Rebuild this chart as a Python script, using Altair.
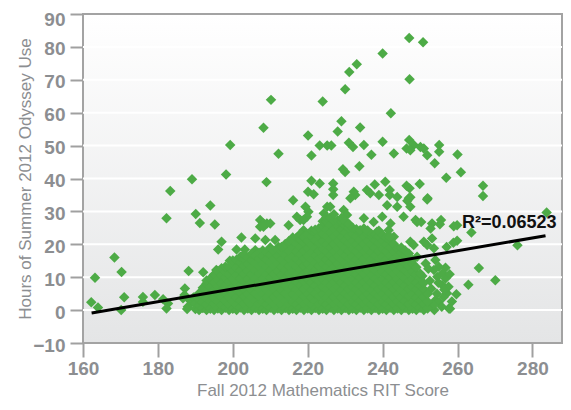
import altair as alt
import pandas as pd

# ---- scattered points (RIT score, hours) ----
out_x = [247.1, 250.8, 240.0, 233.1, 231.1, 247.2, 230.0, 210.2, 224.0, 242.2,
         229.0, 208.2, 234.0, 228.0, 220.1, 247.1, 240.0, 231.0, 199.3, 223.2,
         225.2, 226.3, 235.0, 248.3, 255.1, 232.1, 250.1, 246.4, 251.0, 247.4,
         255.1, 212.2, 243.0, 260.0, 237.0, 251.9, 221.0, 253.9, 233.8, 229.4,
         230.0, 260.9, 198.2, 257.0, 189.1, 221.0, 240.7, 209.0, 223.2, 226.8,
         249.9, 237.9, 266.8, 246.4, 247.2, 226.8, 235.8, 241.9, 183.3, 220.1,
         232.3, 236.7, 221.6, 226.8, 232.7, 239.0, 241.9, 266.8, 243.9, 231.4,
         247.0, 252.0, 216.1, 251.9, 247.4, 246.6, 194.0, 225.2, 226.0, 219.4,
         243.9, 241.2, 247.4, 229.6, 283.8, 190.1, 230.5, 224.3, 220.2, 219.8,
         239.9, 245.6, 217.1, 182.3, 235.0, 207.3, 218.0, 248.8, 255.6, 218.9,
         237.6, 249.2, 250.3, 191.2, 208.2, 209.1, 210.0, 242.1, 253.2, 255.3,
         195.2, 214.9, 259.9, 259.0, 207.3, 208.2, 252.8, 241.6, 218.9, 238.5,
         263.7, 218.5, 202.3, 243.0, 206.0, 253.2, 259.9, 208.7, 211.3, 218.9,
         197.0, 247.4, 251.0, 258.9, 276.0, 257.1, 212.2, 215.3, 248.3, 251.9,
         253.7, 196.1, 201.0, 203.2, 206.0, 216.7, 168.4, 249.2, 205.5, 254.1,
         199.2, 251.5, 256.8, 265.7, 255.0, 253.7, 195.6, 188.2, 192.1, 170.3,
         270.1, 163.2, 256.8, 254.6, 262.9, 255.9, 187.2, 257.2, 259.7, 179.2,
         176.0, 171.0, 256.3, 186.7, 181.4, 188.5, 254.1, 176.0, 255.0, 162.2,
         182.7, 164.0, 182.3, 257.7, 258.0, 170.2, 253.8, 191.3, 191.3, 189.1,
         187.1, 188.0, 189.5, 187.8, 253.0, 254.5, 252.6, 255.8, 253.5, 256.0,
         257.6, 258.5, 249.8, 251.2, 250.6, 252.2, 254.9, 256.5, 257.9, 250.0]
out_y = [82.7, 81.4, 78.0, 74.7, 72.4, 70.2, 67.1, 63.9, 63.4, 59.8,
         57.4, 55.4, 55.5, 54.3, 53.1, 51.7, 51.2, 50.9, 50.2, 50.0,
         50.0, 50.0, 50.2, 50.2, 50.2, 49.6, 49.6, 49.1, 49.1, 48.6,
         48.1, 47.5, 47.6, 47.3, 47.2, 47.1, 47.0, 44.6, 43.7, 42.8,
         42.0, 41.9, 41.2, 40.2, 39.8, 39.3, 39.0, 38.9, 38.5, 38.5,
         38.3, 38.2, 37.8, 37.8, 37.0, 36.7, 36.5, 36.5, 36.2, 36.0,
         36.0, 35.5, 35.2, 35.0, 35.0, 35.0, 35.0, 34.7, 34.4, 34.0,
         34.0, 34.0, 33.4, 33.6, 34.3, 33.2, 31.8, 31.4, 31.4, 31.4,
         31.4, 31.9, 31.4, 30.4, 29.7, 29.2, 28.9, 29.4, 29.9, 28.4,
         28.4, 28.4, 28.4, 27.9, 27.9, 27.4, 27.4, 27.4, 27.4, 27.4,
         26.8, 26.8, 26.8, 26.5, 26.3, 26.3, 26.3, 26.3, 26.3, 26.1,
         26.0, 25.8, 25.8, 25.5, 25.3, 25.3, 24.8, 24.3, 24.3, 23.8,
         23.6, 23.3, 22.1, 22.3, 21.8, 21.8, 21.1, 21.3, 21.3, 21.3,
         20.8, 20.8, 20.8, 20.5, 19.7, 19.2, 19.2, 19.2, 19.8, 19.8,
         18.8, 18.4, 18.4, 18.4, 18.2, 18.2, 16.0, 16.2, 15.2, 15.2,
         15.0, 14.2, 12.9, 12.8, 13.2, 12.2, 12.2, 11.9, 11.5, 11.6,
         9.1, 9.8, 9.6, 10.1, 7.7, 7.6, 6.6, 5.1, 4.8, 4.6,
         4.0, 3.9, 4.0, 3.6, 3.3, 3.0, 3.0, 2.5, 2.5, 2.4,
         2.0, 0.8, 0.5, 0.5, 0.4, 0.0, 0.0, 0.5, 5.0, 2.5,
         4.6, 1.0, 3.8, 0.3, 6.5, 5.0, 8.9, 1.0, 1.5, 11.2,
         7.1, 2.6, 3.2, 5.8, 10.4, 12.6, 8.3, 6.2, 10.9, 0.9]

# ---- dense cloud, estimated per RIT score column (hours) ----
blob = {
    190: [0.3, 2.1, 4.0],
    191: [0.0, 1.4, 3.2, 5.1],
    192: [0.6, 2.5, 4.6, 6.8],
    193: [0.0, 1.7, 3.6, 5.9, 8.1, 9.0],
    194: [0.4, 2.8, 4.9, 7.0, 9.6],
    195: [0.0, 1.9, 3.7, 6.1, 8.4, 10.8],
    196: [0.5, 2.6, 4.8, 7.2, 9.3, 11.9],
    197: [0.0, 1.5, 3.9, 6.0, 8.1, 10.5, 12.7],
    198: [0.7, 2.9, 5.2, 7.4, 9.8, 11.6, 13.2],
    199: [0.0, 1.8, 4.0, 6.3, 8.6, 10.9, 13.1],
    200: [0.4, 2.6, 5.0, 7.1, 9.4, 11.8, 14.2, 15.1],
    201: [0.0, 1.6, 3.8, 6.2, 8.3, 10.6, 12.9, 15.3],
    202: [0.8, 3.0, 5.3, 7.5, 9.7, 12.1, 14.4, 16.2],
    203: [0.0, 1.9, 4.1, 6.4, 8.8, 11.0, 13.4, 15.6, 17.0],
    204: [0.5, 2.7, 5.0, 7.3, 9.5, 11.9, 14.1, 16.0],
    205: [0.0, 1.6, 3.9, 6.1, 8.4, 10.8, 13.0, 15.2, 17.1],
    206: [0.6, 2.8, 5.1, 7.4, 9.6, 12.0, 14.3, 16.5],
    207: [0.0, 1.9, 4.2, 6.5, 8.7, 11.1, 13.3, 15.7, 17.4],
    208: [0.4, 2.5, 4.9, 7.2, 9.5, 11.7, 14.0, 16.4, 18.1],
    209: [0.0, 1.7, 3.8, 6.2, 8.5, 10.9, 13.2, 15.4, 17.6],
    210: [0.7, 2.9, 5.2, 7.5, 9.8, 12.1, 14.5, 16.8, 19.0],
    211: [0.0, 1.8, 4.0, 6.3, 8.6, 11.0, 13.3, 15.6, 17.9],
    212: [0.5, 2.6, 5.0, 7.3, 9.6, 11.8, 14.2, 16.5, 18.3],
    213: [0.0, 1.6, 3.9, 6.1, 8.4, 10.7, 13.1, 15.4, 17.7, 19.2],
    214: [0.6, 2.8, 5.1, 7.4, 9.7, 12.0, 14.3, 16.6, 18.9, 20.1],
    215: [0.0, 1.9, 4.2, 6.5, 8.8, 11.1, 13.4, 15.7, 18.0, 20.4, 21.0],
    216: [0.4, 2.5, 4.8, 7.1, 9.4, 11.7, 14.0, 16.3, 18.7, 21.0, 22.1],
    217: [0.0, 1.7, 3.9, 6.3, 8.6, 10.9, 13.2, 15.5, 17.8, 20.2, 22.0],
    218: [0.7, 2.9, 5.2, 7.5, 9.8, 12.2, 14.5, 16.9, 19.2, 21.5, 23.1],
    219: [0.0, 1.8, 4.1, 6.4, 8.7, 11.0, 13.4, 15.7, 18.0, 20.3, 22.2],
    220: [0.5, 2.6, 4.9, 7.2, 9.5, 11.8, 14.1, 16.4, 18.8, 21.1, 23.0],
    221: [0.0, 1.6, 3.8, 6.1, 8.4, 10.7, 13.0, 15.3, 17.6, 19.9, 22.3, 24.1],
    222: [0.6, 2.8, 5.1, 7.4, 9.7, 12.0, 14.3, 16.6, 18.9, 21.2, 23.5, 24.4],
    223: [0.0, 1.9, 4.2, 6.5, 8.8, 11.1, 13.4, 15.7, 18.0, 20.3, 22.6, 24.9],
    224: [0.4, 2.5, 4.8, 7.1, 9.4, 11.7, 14.0, 16.3, 18.6, 20.9, 23.2, 25.5, 27.0],
    225: [0.0, 1.7, 3.9, 6.2, 8.5, 10.8, 13.1, 15.4, 17.7, 20.0, 22.3, 24.6, 26.9, 28.2],
    226: [0.7, 2.9, 5.2, 7.5, 9.8, 12.1, 14.4, 16.7, 19.0, 21.3, 23.6, 25.9, 28.1],
    227: [0.0, 1.8, 4.0, 6.3, 8.6, 10.9, 13.2, 15.5, 17.8, 20.1, 22.4, 24.7, 27.0, 29.1],
    228: [0.5, 2.6, 4.9, 7.2, 9.5, 11.8, 14.1, 16.4, 18.7, 21.0, 23.3, 25.6, 27.2],
    229: [0.0, 1.6, 3.8, 6.1, 8.4, 10.7, 13.0, 15.3, 17.6, 19.9, 22.2, 24.5, 26.8, 28.0],
    230: [0.6, 2.8, 5.1, 7.4, 9.7, 12.0, 14.3, 16.6, 18.9, 21.2, 23.5, 25.8, 27.1],
    231: [0.0, 1.9, 4.2, 6.5, 8.8, 11.1, 13.4, 15.7, 18.0, 20.3, 22.6, 24.9, 26.2],
    232: [0.4, 2.5, 4.8, 7.1, 9.4, 11.7, 14.0, 16.3, 18.6, 20.9, 23.2, 25.0],
    233: [0.0, 1.7, 3.9, 6.2, 8.5, 10.8, 13.1, 15.4, 17.7, 20.0, 22.3, 24.6],
    234: [0.7, 2.9, 5.2, 7.5, 9.8, 12.1, 14.4, 16.7, 19.0, 21.3, 23.6, 24.3],
    235: [0.0, 1.8, 4.0, 6.3, 8.6, 10.9, 13.2, 15.5, 17.8, 20.1, 22.4, 24.8],
    236: [0.5, 2.6, 4.9, 7.2, 9.5, 11.8, 14.1, 16.4, 18.7, 21.0, 23.3, 24.2],
    237: [0.0, 1.6, 3.8, 6.1, 8.4, 10.7, 13.0, 15.3, 17.6, 19.9, 22.2, 23.1],
    238: [0.6, 2.8, 5.1, 7.4, 9.7, 12.0, 14.3, 16.6, 18.9, 21.2, 23.0],
    239: [0.0, 1.9, 4.2, 6.5, 8.8, 11.1, 13.4, 15.7, 18.0, 20.3, 22.6, 24.1],
    240: [0.4, 2.5, 4.8, 7.1, 9.4, 11.7, 14.0, 16.3, 18.6, 20.9, 22.9],
    241: [0.0, 1.7, 3.9, 6.2, 8.5, 10.8, 13.1, 15.4, 17.7, 20.0, 22.1],
    242: [0.7, 2.9, 5.2, 7.5, 9.8, 12.1, 14.4, 16.7, 19.0, 21.3, 22.2],
    243: [0.0, 1.8, 4.0, 6.3, 8.6, 10.9, 13.2, 15.5, 17.8, 20.1],
    244: [0.5, 2.6, 4.9, 7.2, 9.5, 11.8, 14.1, 16.4, 18.7],
    245: [0.0, 1.6, 3.8, 6.1, 8.4, 10.7, 13.0, 15.3, 17.6, 19.0],
    246: [0.6, 2.8, 5.1, 7.4, 9.7, 12.0, 14.3, 16.6, 18.1],
    247: [0.0, 1.9, 4.2, 6.5, 8.8, 11.1, 13.4, 15.7, 17.2],
    248: [0.4, 2.5, 4.8, 7.1, 9.4, 11.7, 14.0, 15.2],
    249: [0.0, 1.7, 3.9, 6.2, 8.5, 10.8, 13.0],
    250: [0.7, 2.9, 5.2, 7.5, 9.8, 11.1],
    251: [0.0, 1.8, 4.0, 6.3, 8.2],
    252: [0.5, 2.6, 4.9],
}

# trend line end points and its label
fit_x = [162.3, 283.5]
fit_y = [-0.9, 22.6]
r2_label = "R\u00b2=0.06523"
r2_pos = (273.8, 26.5)

grid_y = [0, 10, 20, 30, 40, 50, 60, 70, 80]
x_ticks = [160, 180, 200, 220, 240, 260, 280]
y_ticks = [-10, 0, 10, 20, 30, 40, 50, 60, 70, 80, 90]
x_domain = [160, 287.9]
y_domain = [-10, 90]

W, H = 479, 329
GREEN = "#4dab46"
GRAY = "#8c8e91"

rows = [{"rit": x, "hours": y} for x, y in zip(out_x, out_y)]
for rit, vals in blob.items():
    rows += [{"rit": rit, "hours": v} for v in vals]
pts = pd.DataFrame(rows)

xs = alt.Scale(domain=x_domain, nice=False, zero=False)
ys = alt.Scale(domain=y_domain, nice=False, zero=False)

X_AXIS = alt.Axis(values=x_ticks, title="Fall 2012 Mathematics RIT Score",
                  grid=False, domain=False, tickSize=14, tickWidth=2,
                  tickColor="#a0a0a0", labelPadding=2, titlePadding=4,
                  labelFlush=False)
Y_AXIS = alt.Axis(values=y_ticks, title="Hours of Summer 2012 Odyssey Use",
                  grid=False, domain=False, tickSize=13, tickWidth=2,
                  tickColor="#a0a0a0", labelPadding=5, titlePadding=-2,
                  labelOffset=alt.condition("datum.value == 90", alt.value(5), alt.value(2)))

bg = alt.Chart(alt.Data(values=[{}])).mark_rect(
    color=alt.Gradient(
        gradient="linear",
        stops=[alt.GradientStop(color="#ffffff", offset=0),
               alt.GradientStop(color="#e4e5e6", offset=1)],
        x1=0, x2=0, y1=0, y2=1,
    )
).encode(x=alt.value(1), x2=alt.value(W - 1), y=alt.value(1), y2=alt.value(H - 1))

grid = alt.Chart(pd.DataFrame({"g": grid_y})).mark_rule(
    color="#ffffff", strokeWidth=2
).encode(y=alt.Y("g:Q", scale=ys, axis=Y_AXIS))

scatter = alt.Chart(pts).mark_point(
    shape="diamond", filled=True, size=110, color=GREEN, opacity=1
).encode(
    x=alt.X("rit:Q", scale=xs, axis=X_AXIS),
    y=alt.Y("hours:Q", scale=ys, axis=Y_AXIS),
)

fit = alt.Chart(pd.DataFrame({"x": fit_x, "y": fit_y})).mark_line(
    color="#000000", strokeWidth=3
).encode(x=alt.X("x:Q", scale=xs, axis=X_AXIS), y=alt.Y("y:Q", scale=ys, axis=Y_AXIS))

label = alt.Chart(pd.DataFrame({"x": [r2_pos[0]], "y": [r2_pos[1]], "t": [r2_label]})).mark_text(
    font="Liberation Sans", fontWeight="bold", fontSize=18, color="#111111",
    align="center", baseline="middle"
).encode(x=alt.X("x:Q", scale=xs, axis=X_AXIS), y=alt.Y("y:Q", scale=ys, axis=Y_AXIS),
         text="t:N")

chart = alt.layer(bg, grid, scatter, fit, label).properties(
    width=W, height=H,
    autosize=alt.AutoSizeParams(type="none"),
    padding={"left": 75, "top": 6, "right": 1, "bottom": 58},
).configure_view(
    stroke="#a3a3a3", strokeWidth=2, fill="#ffffff"
).configure_axis(
    labelFont="Liberation Sans", labelFontWeight="bold", labelFontSize=19,
    labelColor=GRAY, titleFont="Liberation Sans", titleFontWeight="normal",
    titleFontSize=17, titleColor=GRAY,
)

chart.save("out.html", embed_options={"renderer": "svg", "actions": False})
